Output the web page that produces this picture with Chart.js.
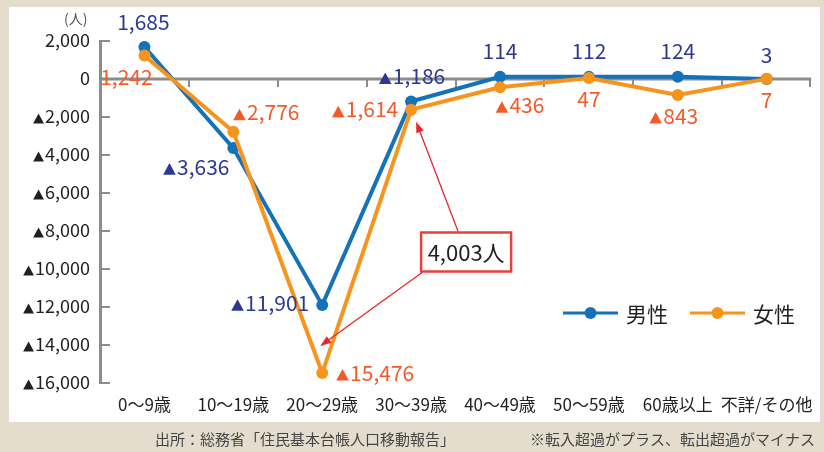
<!DOCTYPE html>
<html>
<head>
<meta charset="utf-8">
<script src="https://cdn.jsdelivr.net/npm/chart.js@4.4.1/dist/chart.umd.min.js"></script>
<style>
html,body{margin:0;padding:0;background:#e4ddcd;}
canvas{display:block;}
</style>
</head>
<body>
<canvas id="chart" width="824" height="452"></canvas>
<script>
// data
const ageGroups = ["0〜9歳","10〜19歳","20〜29歳","30〜39歳","40〜49歳","50〜59歳","60歳以上","不詳/その他"];
const male = [1685,-3636,-11901,-1186,114,112,124,3];
const female = [1242,-2776,-15476,-1614,-436,47,-843,7];
const yTicks = [2000,0,-2000,-4000,-6000,-8000,-10000,-12000,-14000,-16000];
const seriesNames = ["男性","女性"];
const gapText = "4,003人";
const unitText = "(人)";
const sourceText = "出所：総務省「住民基本台帳人口移動報告」";
const noteText = "※転入超過がプラス、転出超過がマイナス";

// label placement (pixels from each point)
const maleLabelOff = [[-1,-25],[-37,19],[-52,-2],[1,-25],[0,-25],[0,-25],[0,-25],[0,-24]];
const femaleLabelOff = [[-18,22],[33,-19],[53,0],[-46,0],[20,18],[0,21],[-4,21],[0,22]];

const BLUE = "#1472b9", ORANGE = "#f7941e";
const NAVY = "#2b3990", RED_ORANGE = "#f15a29";
const AXIS = "#8c8c8c";
const JP = "'Noto Sans CJK JP'";

// numbers with a ▲ mark for negatives (drawn as a small triangle)
function drawVal(ctx, v, x, y, size, color, align){
  const num = Math.abs(v).toLocaleString("en-US");
  ctx.font = size + "px " + JP;
  const wNum = ctx.measureText(num).width;
  const tw = size*0.6, th = size*0.55;
  const wTri = v<0 ? tw + size*0.06 : 0;
  const total = wNum + wTri;
  let x0 = align==="right" ? x-total : (align==="left" ? x : x-total/2);
  const base = y + size*0.36;
  ctx.fillStyle = color;
  ctx.textAlign = "left";
  ctx.textBaseline = "alphabetic";
  if(v<0){
    ctx.beginPath();
    ctx.moveTo(x0, base); ctx.lineTo(x0+tw, base); ctx.lineTo(x0+tw/2, base-th);
    ctx.closePath(); ctx.fill();
  }
  ctx.fillText(num, x0+wTri, base);
}

function arrow(ctx, x1, y1, x2, y2){
  const a = Math.atan2(y2-y1, x2-x1);
  ctx.beginPath(); ctx.moveTo(x1,y1); ctx.lineTo(x2-Math.cos(a)*6, y2-Math.sin(a)*6); ctx.stroke();
  ctx.beginPath();
  ctx.moveTo(x2,y2);
  ctx.lineTo(x2-Math.cos(a)*11+Math.sin(a)*4, y2-Math.sin(a)*11-Math.cos(a)*4);
  ctx.lineTo(x2-Math.cos(a)*11-Math.sin(a)*4, y2-Math.sin(a)*11+Math.cos(a)*4);
  ctx.closePath(); ctx.fill();
}

const deco = {
  id:"deco",
  beforeDraw(chart){
    const ctx = chart.ctx;
    ctx.save();
    ctx.fillStyle = "#e4ddcd"; ctx.fillRect(0,0,chart.width,chart.height);
    ctx.fillStyle = "#ffffff"; ctx.fillRect(9,7,811,415);
    ctx.restore();
  },
  beforeDatasetsDraw(chart){
    const ctx = chart.ctx, x = chart.scales.x, y = chart.scales.y, ca = chart.chartArea;
    ctx.save();
    ctx.strokeStyle = AXIS; ctx.lineWidth = 3;
    const y0 = y.getPixelForValue(0);
    ctx.beginPath(); ctx.moveTo(ca.left, y0); ctx.lineTo(ca.right, y0); ctx.stroke();
    ctx.lineWidth = 2;
    const w = (ca.right-ca.left)/ageGroups.length;
    for(let i=1;i<=ageGroups.length;i++){
      const px = Math.round(ca.left + i*w) - (i===ageGroups.length?1:0);
      ctx.beginPath(); ctx.moveTo(px, y0); ctx.lineTo(px, y0+8); ctx.stroke();
    }
    yTicks.forEach(v=>{
      const py = y.getPixelForValue(v);
      ctx.beginPath(); ctx.moveTo(ca.left, py); ctx.lineTo(ca.left+10, py); ctx.stroke();
      drawVal(ctx, v, ca.left-10, py, 18, "#231f20", "right");
    });
    ctx.fillStyle = "#555"; ctx.font = "14px " + JP; ctx.textAlign = "left"; ctx.textBaseline = "middle";
    ctx.fillText(unitText, 64, 19);
    ctx.restore();
  },
  afterDatasetsDraw(chart){
    const ctx = chart.ctx, x = chart.scales.x, y = chart.scales.y;
    ctx.save();
    male.forEach((v,i)=>{
      drawVal(ctx, v, x.getPixelForValue(i)+maleLabelOff[i][0], y.getPixelForValue(v)+maleLabelOff[i][1], 21, NAVY, "center");
    });
    female.forEach((v,i)=>{
      drawVal(ctx, v, x.getPixelForValue(i)+femaleLabelOff[i][0], y.getPixelForValue(v)+femaleLabelOff[i][1], 21, RED_ORANGE, "center");
    });

    // legend
    [[563,BLUE,seriesNames[0]],[690,ORANGE,seriesNames[1]]].forEach(([lx,col,name])=>{
      ctx.strokeStyle = col; ctx.lineWidth = 3;
      ctx.beginPath(); ctx.moveTo(lx,313); ctx.lineTo(lx+55,313); ctx.stroke();
      ctx.fillStyle = col; ctx.beginPath(); ctx.arc(lx+27.5,313,6,0,Math.PI*2); ctx.fill();
      ctx.fillStyle = "#231f20"; ctx.font = "21px " + JP; ctx.textAlign = "left"; ctx.textBaseline = "middle";
      ctx.fillText(name, lx+63, 314);
    });

    // gap annotation
    const bx = x.getPixelForValue(3) + 55, by = y.getPixelForValue(-9000) + 2;
    const bw = 90, bh = 39;
    ctx.fillStyle = "#fff"; ctx.fillRect(bx-bw/2, by-bh/2, bw, bh);
    ctx.strokeStyle = "#e8413c"; ctx.lineWidth = 2.5;
    ctx.strokeRect(bx-bw/2, by-bh/2, bw, bh);
    ctx.fillStyle = "#231f20"; ctx.font = "22px " + JP; ctx.textAlign = "center"; ctx.textBaseline = "middle";
    ctx.fillText(gapText, bx, by+1);
    ctx.strokeStyle = "#e8262d"; ctx.fillStyle = "#e8262d"; ctx.lineWidth = 1.3;
    arrow(ctx, bx-8, by-bh/2-1, x.getPixelForValue(3)+5, y.getPixelForValue(female[3])+12);
    arrow(ctx, bx-bw/2+1, by+bh/2+1, x.getPixelForValue(2)-2, y.getPixelForValue(female[2])-27);

    // footer
    ctx.fillStyle = "#444"; ctx.font = "15px " + JP; ctx.textBaseline = "middle";
    ctx.textAlign = "left"; ctx.fillText(sourceText, 155, 439);
    ctx.textAlign = "right"; ctx.fillText(noteText, 815, 439);
    ctx.restore();
  }
};

new Chart(document.getElementById("chart").getContext("2d"), {
  type: "line",
  data: {
    labels: ageGroups,
    datasets: [
      {label:seriesNames[0], data:male, borderColor:BLUE, backgroundColor:BLUE, borderWidth:4,
       pointRadius:6, pointBorderWidth:0, pointBackgroundColor:BLUE, tension:0, order:2},
      {label:seriesNames[1], data:female, borderColor:ORANGE, backgroundColor:ORANGE, borderWidth:4,
       pointRadius:6, pointBorderWidth:0, pointBackgroundColor:ORANGE, tension:0, order:1}
    ]
  },
  options: {
    responsive:false, animation:false,
    layout:{padding:{left:0,right:8,top:41,bottom:0}},
    plugins:{legend:{display:false}, tooltip:{enabled:false}},
    scales:{
      x:{
        offset:true,
        grid:{display:false, drawTicks:false},
        border:{display:false},
        ticks:{autoSkip:false, maxRotation:0, padding:11, color:"#231f20", font:{family:"Noto Sans CJK JP", size:17}},
        afterFit(s){ s.height = 69; }
      },
      y:{
        min:-16000, max:2000,
        grid:{display:false, drawTicks:false},
        border:{display:true, color:AXIS, width:3},
        ticks:{display:false, stepSize:2000},
        afterFit(s){ s.width = 100; }
      }
    }
  },
  plugins:[deco]
});
</script>
</body>
</html>
